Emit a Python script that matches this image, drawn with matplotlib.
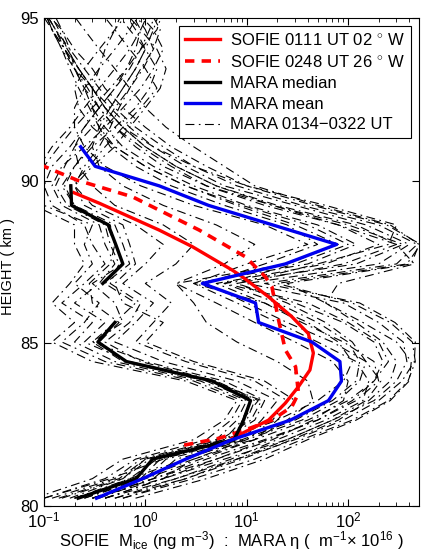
import numpy as np
import matplotlib
matplotlib.use("Agg")
import matplotlib.pyplot as plt

plt.rcParams['font.family'] = ['Liberation Sans', 'DejaVu Sans']
plt.rcParams['mathtext.fontset'] = 'custom'
plt.rcParams['mathtext.rm'] = 'Liberation Sans'
plt.rcParams['mathtext.it'] = 'Liberation Sans:italic'
plt.rcParams['mathtext.bf'] = 'Liberation Sans:bold'

# ---------------- data ----------------
# MARA height grid (km)
mara_height = [80.24, 80.84, 81.44, 82.04, 82.64, 83.24, 83.84, 84.44, 85.04, 85.64,
               86.24, 86.84, 87.44, 88.04, 88.64, 89.24, 89.84, 90.44, 91.04, 91.64,
               92.24, 92.84, 93.44, 94.04, 94.64, 95.24]

# Individual MARA profiles (eta, m^-1 x 1e16)
mara_profiles = [
    [0.6, 3, 12, 35, 110, 250, 390, 460, 430, 260, 110, 20, 380, 520, 240, 45, 10, 4, 1.8, 1.0, 0.6, 0.4, 0.3, 0.2, 0.15, 0.1],
    [0.4, 2, 8, 30, 90, 200, 340, 450, 460, 290, 130, 15, 300, 480, 200, 35, 8, 3, 1.5, 0.8, 0.5, 0.35, 0.25, 0.18, 0.13, 0.1],
    [0.8, 4, 15, 40, 120, 260, 400, 420, 300, 140, 60, 25, 420, 500, 260, 50, 12, 6, 3, 1.6, 1, 0.7, 0.5, 0.35, 0.25, 0.18],
    [0.3, 1.5, 6, 25, 70, 180, 300, 380, 350, 200, 90, 10, 200, 400, 150, 30, 6, 2.5, 1.2, 0.7, 0.45, 0.3, 0.22, 0.16, 0.12, 0.09],
    [0.5, 2.5, 9, 28, 80, 160, 260, 300, 220, 120, 60, 80, 450, 300, 80, 18, 5, 2, 1, 0.6, 0.4, 0.3, 0.22, 0.17, 0.13, 0.1],
    [0.3, 1.2, 5, 16, 50, 110, 180, 220, 180, 90, 30, 8, 50, 250, 300, 60, 10, 3, 1.2, 0.6, 0.4, 0.3, 0.2, 0.15, 0.12, 0.1],
    [0.3, 1.2, 4, 15, 50, 120, 200, 180, 90, 35, 15, 5, 60, 200, 80, 15, 4, 1.5, 0.8, 0.5, 0.35, 0.25, 0.2, 0.16, 0.13, 0.1],
    [0.5, 2, 7, 20, 60, 140, 160, 120, 50, 20, 8, 3, 40, 120, 50, 10, 3, 1.2, 0.6, 0.4, 0.3, 0.25, 0.2, 0.18, 0.15, 0.12],
    [0.2, 0.9, 3, 10, 35, 80, 130, 150, 110, 60, 25, 8, 90, 300, 120, 20, 5, 2, 1, 0.6, 0.4, 0.3, 0.22, 0.17, 0.14, 0.11],
    [0.4, 1.5, 5, 18, 45, 90, 100, 70, 30, 12, 5, 2, 25, 80, 30, 8, 2.5, 1, 0.5, 0.35, 0.28, 0.22, 0.18, 0.15, 0.12, 0.1],
    [0.25, 1, 3.5, 12, 40, 100, 180, 250, 200, 100, 40, 6, 120, 350, 100, 18, 4, 1.8, 0.9, 0.5, 0.35, 0.27, 0.2, 0.16, 0.12, 0.1],
    [0.6, 2.5, 8, 25, 70, 150, 210, 150, 70, 25, 10, 4, 15, 50, 25, 6, 1.8, 0.8, 0.45, 0.35, 0.3, 0.3, 0.35, 0.4, 0.5, 0.6],
    [0.2, 0.7, 2.5, 9, 30, 70, 120, 130, 100, 50, 20, 6, 30, 100, 40, 9, 2.5, 1, 0.5, 0.3, 0.22, 0.2, 0.25, 0.35, 0.5, 0.7],
    [0.4, 1.5, 3, 12, 25, 45, 40, 20, 8, 4, 3, 2, 6, 12, 5, 1.5, 0.6, 0.35, 0.3, 0.35, 0.45, 0.6, 0.8, 1.0, 0.8, 0.6],
    [0.1, 0.45, 1.5, 6, 20, 50, 90, 110, 80, 40, 15, 3, 10, 40, 15, 3, 0.9, 0.4, 0.25, 0.2, 0.2, 0.25, 0.35, 0.5, 0.7, 0.9],
    [0.2, 0.8, 1.2, 6, 12, 15, 6, 1, 0.3, 0.5, 0.8, 0.4, 0.7, 0.6, 0.5, 0.2, 0.15, 0.2, 0.3, 0.5, 0.8, 1.1, 1.3, 1.0, 0.7, 0.5],
    [0.15, 0.6, 1.1, 7, 10, 12, 5, 0.7, 0.25, 0.4, 0.2, 0.35, 0.5, 0.4, 0.35, 0.15, 0.12, 0.15, 0.25, 0.4, 0.6, 0.9, 1.2, 1.5, 1.2, 0.8],
    [0.25, 0.9, 1.4, 9, 14, 20, 8, 1.5, 0.5, 0.8, 1.2, 0.6, 1, 1.5, 0.8, 0.3, 0.2, 0.25, 0.35, 0.45, 0.55, 0.7, 0.9, 1.2, 1.4, 1.1],
    [0.12, 0.5, 0.9, 5, 8, 10, 3.5, 0.5, 0.2, 0.3, 0.15, 0.25, 0.4, 0.3, 0.25, 0.12, 0.1, 0.12, 0.18, 0.25, 0.35, 0.5, 0.7, 0.9, 1.1, 1.3],
    [0.3, 1.0, 1.6, 10, 18, 25, 12, 2.5, 0.8, 1.2, 1.8, 1.0, 2, 3, 1.5, 0.5, 0.3, 0.22, 0.2, 0.25, 0.35, 0.5, 0.65, 0.8, 0.9, 0.7],
    [0.1, 0.4, 0.8, 4, 7, 9, 3, 0.4, 0.15, 0.25, 0.35, 0.2, 0.3, 0.25, 0.3, 0.1, 0.09, 0.1, 0.14, 0.2, 0.3, 0.45, 0.65, 0.9, 1.3, 1.5],
    [0.22, 0.7, 1.3, 8, 9, 11, 4, 0.6, 0.3, 0.6, 0.5, 0.3, 0.6, 0.5, 0.45, 0.19, 0.18, 0.28, 0.4, 0.6, 0.9, 1.3, 1.0, 0.7, 0.5, 0.35],
    [0.08, 0.3, 0.6, 3, 6, 8, 2.5, 0.3, 0.12, 0.2, 0.12, 0.18, 0.25, 0.2, 0.2, 0.08, 0.07, 0.09, 0.12, 0.18, 0.25, 0.35, 0.5, 0.7, 0.9, 1.1],
    [0.35, 1.2, 2, 12, 20, 30, 15, 3, 1, 1.5, 0.6, 0.5, 0.8, 0.7, 0.6, 0.25, 0.2, 0.3, 0.5, 0.7, 1.0, 1.4, 1.6, 1.3, 0.9, 0.6],
    [0.18, 0.6, 1.0, 6, 9, 13, 5, 0.9, 0.4, 0.7, 0.9, 0.45, 0.55, 0.45, 0.4, 0.17, 0.13, 0.16, 0.2, 0.3, 0.45, 0.6, 0.8, 1.0, 1.2, 1.4],
    [0.14, 0.55, 1.0, 5.5, 11, 14, 4.5, 0.65, 0.35, 0.55, 0.3, 0.28, 0.45, 0.5, 0.42, 0.2, 0.16, 0.2, 0.28, 0.38, 0.5, 0.7, 0.95, 1.2, 1.0, 0.75],
]

# MARA median
median_height = [80.24, 80.84, 81.44, 82.04, 82.64, 83.24, 83.84, 84.44, 85.04, 85.64,
                 86.24, 86.84, 87.44, 88.04, 88.64, 89.24, 89.84]
median_eta = [0.217, 0.81, 1.18, 7.5, 9.3, 10.9, 4.57, 0.65, 0.34, 0.5,
              np.nan, 0.38, 0.6, 0.51, 0.43, 0.187, 0.184]

# MARA mean
mean_height = [80.24, 80.84, 81.44, 82.04, 82.64, 83.24, 83.84, 84.44, 85.04, 85.64,
               86.24, 86.84, 87.44, 88.04, 88.64, 89.24, 89.84, 90.44, 91.04]
mean_eta = [0.33, 0.94, 2.5, 7.2, 27, 64, 86, 83, 44, 13.1,
            12.2, 3.65, 24, 77, 18, 4.2, 1.37, 0.32, 0.23]

# SOFIE 0111 UT 02 W
sofie1_height = [82.08, 82.64, 83.16, 83.67, 84.18, 84.7, 85.3, 85.82, 86.43, 87.05,
                 87.25, 87.97, 88.48, 89.3, 89.63]
sofie1_mice = [7.2, 16.4, 24, 32.4, 42, 45.4, 40.5, 27.8, 16.4, 9,
               7.2, 2.91, 1.37, 0.355, 0.197]

# SOFIE 0248 UT 26 W
sofie2_height = [81.87, 82.08, 82.34, 82.64, 83.05, 83.46, 84.28, 84.8, 85.72, 86.74,
                 87.05, 87.66, 88.48, 89.5, 90.02, 90.5]
sofie2_mice = [2.41, 5.3, 9.7, 17.7, 27.8, 32.4, 30.3, 24, 20.6, 17.7,
               15.2, 9.7, 3.4, 0.75, 0.21, 0.09]

# ---------------- plot ----------------
fig = plt.figure(figsize=(4.23, 5.55), dpi=100)
ax = fig.add_axes([0.104, 0.0883, 0.8865, 0.8793])

mara_style = (0, (8, 4, 1.5, 4))
for prof in mara_profiles:
    ax.plot(prof, mara_height, color='black', lw=0.8, linestyle=mara_style, zorder=1)

l1, = ax.plot(sofie1_mice, sofie1_height, color='#ff0000', lw=2.4, zorder=3)
l2, = ax.plot(sofie2_mice, sofie2_height, color='#ff0000', lw=2.6,
              linestyle=(0, (2.6, 2.0)), zorder=3)
l3, = ax.plot(median_eta, median_height, color='black', lw=2.4, zorder=4)
l4, = ax.plot(mean_eta, mean_height, color='#0000ee', lw=2.4, zorder=4)
l5, = ax.plot([], [], color='black', lw=0.8, linestyle=mara_style)

ax.set_xscale('log')
ax.set_xlim(0.1, 500)
ax.set_ylim(80, 95)
ax.set_yticks([80, 85, 90, 95])
ax.tick_params(which='both', direction='in', top=True, right=True, labelsize=12)
ax.tick_params(which='major', length=5)
ax.tick_params(which='minor', length=3)

ax.set_ylabel('HEIGHT ( km )', fontsize=10.5)
ax.yaxis.set_label_coords(-0.077, 0.49)
ax.set_xlabel('SOFIE  M$_{\\mathrm{ice}}$ (ng m$^{-3}$)  :  MARA η (  m$^{-1}$\u00d7 10$^{16}$ )',
              fontsize=12, labelpad=-1)

leg = ax.legend([l1, l2, l3, l4, l5],
                ['SOFIE 0111 UT 02 $^{\\circ}$ W', 'SOFIE 0248 UT 26 $^{\\circ}$ W',
                 'MARA median', 'MARA mean', 'MARA 0134\u22120322 UT'],
                loc='upper right', fontsize=12, frameon=True, fancybox=False,
                framealpha=1, edgecolor='black', borderaxespad=0.5,
                handlelength=2.1, handletextpad=0.6, labelspacing=0.35, borderpad=0.35)
leg.get_frame().set_linewidth(0.8)
leg.set_zorder(10)

fig.savefig('out.png', dpi=100)
